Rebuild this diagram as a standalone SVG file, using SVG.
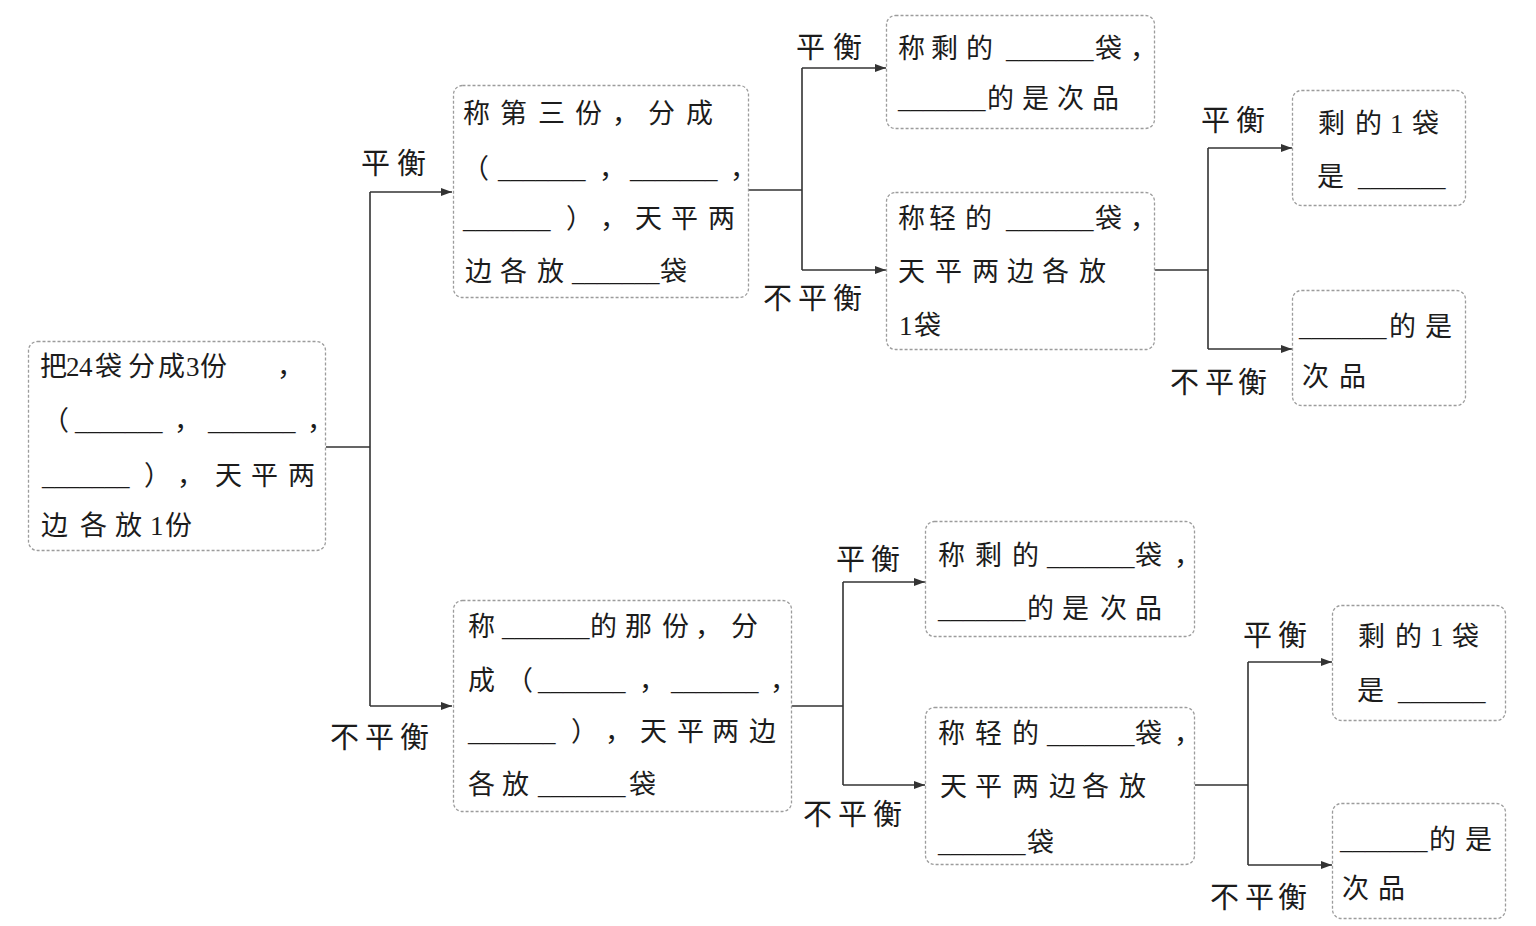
<svg xmlns="http://www.w3.org/2000/svg" width="1536" height="926" viewBox="0 0 1536 926">
<style>
.box{fill:#fff;stroke:#9c9c9c;stroke-width:1.3;stroke-dasharray:3 2}
.t{font-family:"Liberation Serif","Noto Sans CJK SC",serif;font-size:27px;fill:#1c1c1c}
.u{font-size:25px}
.l{font-family:"Liberation Serif","Noto Sans CJK SC",serif;font-size:29px;fill:#1c1c1c}
.c{fill:none;stroke:#333;stroke-width:1.6}
</style>
<defs>
<marker id="ar" markerUnits="userSpaceOnUse" markerWidth="11" markerHeight="8" refX="11" refY="4" orient="auto">
<path d="M0,0 L11,4 L0,8 z" fill="#333"/>
</marker>
</defs>
<rect width="1536" height="926" fill="#fff"/>

<g id="connectors">
<path class="c" d="M326,447 H370 M370,192 V706" />
<path class="c" d="M370,192 H452" marker-end="url(#ar)"/>
<path class="c" d="M370,706 H452" marker-end="url(#ar)"/>
<path class="c" d="M748,190 H802 M802,68 V270"/>
<path class="c" d="M802,68 H886" marker-end="url(#ar)"/>
<path class="c" d="M802,270 H886" marker-end="url(#ar)"/>
<path class="c" d="M1155,270 H1208 M1208,148 V349"/>
<path class="c" d="M1208,148 H1292" marker-end="url(#ar)"/>
<path class="c" d="M1208,349 H1292" marker-end="url(#ar)"/>
<path class="c" d="M792,706 H843 M843,582 V785"/>
<path class="c" d="M843,582 H925" marker-end="url(#ar)"/>
<path class="c" d="M843,785 H925" marker-end="url(#ar)"/>
<path class="c" d="M1195,785 H1248 M1248,662 V865"/>
<path class="c" d="M1248,662 H1332" marker-end="url(#ar)"/>
<path class="c" d="M1248,865 H1332" marker-end="url(#ar)"/>
<text class="l" x="361 397" y="174">平衡</text>
<text class="l" x="330 365 400" y="748">不平衡</text>
<text class="l" x="796 833" y="58">平衡</text>
<text class="l" x="763 798 833" y="309">不平衡</text>
<text class="l" x="1201 1236" y="131">平衡</text>
<text class="l" x="1170 1205 1238" y="393">不平衡</text>
<text class="l" x="836 871" y="570">平衡</text>
<text class="l" x="803 838 873" y="825">不平衡</text>
<text class="l" x="1243 1278" y="646">平衡</text>
<text class="l" x="1210 1245 1278" y="908">不平衡</text>
</g>

<g id="root">
<rect class="box" x="28.5" y="341.5" width="297" height="209" rx="9"/>
<text class="t" x="40 66 79 95 128 158 186 200 277" y="376">把24袋分成3份，</text>
<text class="t" y="430"><tspan x="42">（</tspan><tspan class="u" x="75">_______</tspan><tspan x="174">，</tspan><tspan class="u" x="208">_______</tspan><tspan x="307">，</tspan></text>
<text class="t" y="485"><tspan class="u" x="42">_______</tspan><tspan x="144 177 215 251 288">），天平两</tspan></text>
<text class="t" x="41 80 115 150 165" y="535">边各放1份</text>
</g>

<g id="nodeA">
<rect class="box" x="453.5" y="85.5" width="295" height="212" rx="9"/>
<text class="t" x="463 500 538 575 612 648 686" y="123">称第三份，分成</text>
<text class="t" y="178"><tspan x="462">（</tspan><tspan class="u" x="498">_______</tspan><tspan x="599">，</tspan><tspan class="u" x="630">_______</tspan><tspan x="730">，</tspan></text>
<text class="t" y="228"><tspan class="u" x="463">_______</tspan><tspan x="566 600 635 671 708">），天平两</tspan></text>
<text class="t" y="281"><tspan x="465 500 537">边各放</tspan><tspan class="u" x="572">_______</tspan><tspan x="660">袋</tspan></text>
</g>

<g id="nodeB1">
<rect class="box" x="886.5" y="15.5" width="268" height="113" rx="9"/>
<text class="t" y="58"><tspan x="898 931 966">称剩的</tspan><tspan class="u" x="1006">_______</tspan><tspan x="1095 1130">袋，</tspan></text>
<text class="t" y="108"><tspan class="u" x="898">_______</tspan><tspan x="987 1022 1057 1092">的是次品</tspan></text>
</g>

<g id="nodeB2">
<rect class="box" x="886.5" y="192.5" width="268" height="157" rx="9"/>
<text class="t" y="228"><tspan x="898 929 965">称轻的</tspan><tspan class="u" x="1006">_______</tspan><tspan x="1095 1130">袋，</tspan></text>
<text class="t" x="898 935 972 1007 1042 1079" y="281">天平两边各放</text>
<text class="t" x="899 914" y="335">1袋</text>
</g>

<g id="nodeC1">
<rect class="box" x="1292.5" y="90.5" width="173" height="115" rx="9"/>
<text class="t" x="1318 1355 1390 1412" y="133">剩的1袋</text>
<text class="t" y="186"><tspan x="1317">是</tspan><tspan class="u" x="1358">_______</tspan></text>
</g>

<g id="nodeC2">
<rect class="box" x="1292.5" y="290.5" width="173" height="115" rx="9"/>
<text class="t" y="336"><tspan class="u" x="1299">_______</tspan><tspan x="1389 1425">的是</tspan></text>
<text class="t" x="1302 1339" y="386">次品</text>
</g>

<g id="nodeD">
<rect class="box" x="453.5" y="600.5" width="338" height="211" rx="9"/>
<text class="t" y="636"><tspan x="468">称</tspan><tspan class="u" x="502">_______</tspan><tspan x="590 625 662 695 731">的那份，分</tspan></text>
<text class="t" y="690"><tspan x="468 506">成（</tspan><tspan class="u" x="538">_______</tspan><tspan x="639">，</tspan><tspan class="u" x="671">_______</tspan><tspan x="770">，</tspan></text>
<text class="t" y="741"><tspan class="u" x="468">_______</tspan><tspan x="571 605 640 677 712 749">），天平两边</tspan></text>
<text class="t" y="794"><tspan x="468 502">各放</tspan><tspan class="u" x="538">_______</tspan><tspan x="629">袋</tspan></text>
</g>

<g id="nodeE1">
<rect class="box" x="925.5" y="521.5" width="269" height="115" rx="9"/>
<text class="t" y="565"><tspan x="938 975 1012">称剩的</tspan><tspan class="u" x="1047">_______</tspan><tspan x="1135 1174">袋，</tspan></text>
<text class="t" y="618"><tspan class="u" x="938">_______</tspan><tspan x="1027 1062 1100 1135">的是次品</tspan></text>
</g>

<g id="nodeE2">
<rect class="box" x="925.5" y="707.5" width="269" height="157" rx="9"/>
<text class="t" y="743"><tspan x="938 975 1012">称轻的</tspan><tspan class="u" x="1047">_______</tspan><tspan x="1135 1174">袋，</tspan></text>
<text class="t" x="940 975 1012 1049 1082 1119" y="796">天平两边各放</text>
<text class="t" y="852"><tspan class="u" x="938">_______</tspan><tspan x="1027">袋</tspan></text>
</g>

<g id="nodeF1">
<rect class="box" x="1332.5" y="605.5" width="173" height="115" rx="9"/>
<text class="t" x="1358 1395 1430 1452" y="646">剩的1袋</text>
<text class="t" y="700"><tspan x="1357">是</tspan><tspan class="u" x="1398">_______</tspan></text>
</g>

<g id="nodeF2">
<rect class="box" x="1332.5" y="803.5" width="173" height="115" rx="9"/>
<text class="t" y="849"><tspan class="u" x="1340">_______</tspan><tspan x="1429 1465">的是</tspan></text>
<text class="t" x="1342 1378" y="898">次品</text>
</g>
</svg>
